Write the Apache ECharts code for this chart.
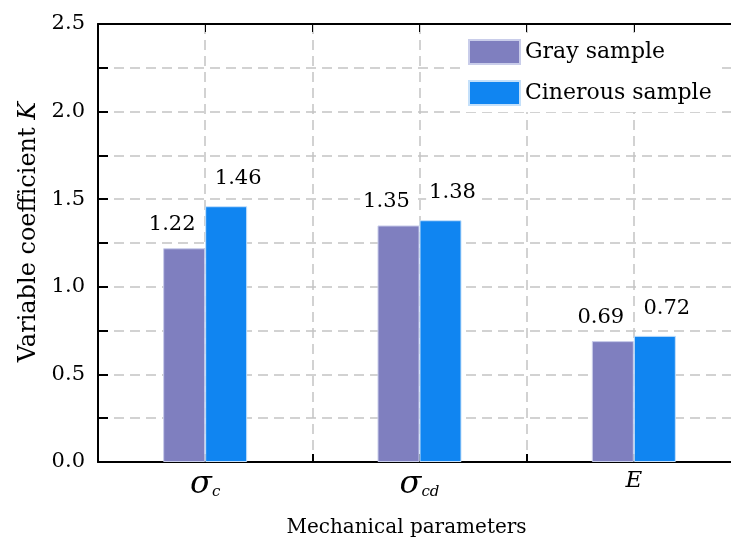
<!DOCTYPE html>
<html>
<head>
<meta charset="utf-8">
<script src="https://cdn.jsdelivr.net/npm/echarts@6/dist/echarts.min.js"></script>
<style>
  html, body { margin: 0; padding: 0; background: #fff; }
  #chart { width: 731px; height: 539px; }
</style>
</head>
<body>
<div id="chart"></div>
<script>
// data
var categories = ['σ_c', 'σ_cd', 'E'];
var graySample = [1.22, 1.35, 0.69];
var cinerousSample = [1.46, 1.38, 0.72];
var seriesNames = ['Gray sample', 'Cinerous sample'];

var FONT = 'DejaVu Serif';
var dash = [10, 6];

var myChart = echarts.init(document.getElementById('chart'));

var option = {
  backgroundColor: '#fff',
  animation: false,
  textStyle: { fontFamily: FONT, color: '#000' },
  grid: { left: 98, top: 24, width: 643, bottom: 77, outerBoundsMode: 'none', containLabel: false },
  legend: {
    orient: 'vertical',
    left: 460,
    top: 33,
    padding: [6, 8, 6, 8],
    backgroundColor: '#fff',
    itemWidth: 51,
    itemHeight: 24,
    itemGap: 15,
    icon: 'rect',
    textStyle: { fontFamily: FONT, fontSize: 22, color: '#000' },
    data: seriesNames
  },
  xAxis: [
    {
      type: 'category',
      data: categories,
      position: 'bottom',
      axisLine: { lineStyle: { color: '#000', width: 2 } },
      axisTick: { show: false },
      splitLine: { show: false },
      axisLabel: {
        margin: 8,
        formatter: function (v) {
          var p = v.split('_');
          if (p.length > 1) return '{s|' + p[0] + '}{sub|' + p[1] + '}';
          return '{e|' + v + '}';
        },
        rich: {
          s: { fontFamily: FONT, fontSize: 32, fontStyle: 'italic', lineHeight: 30 },
          sub: { fontFamily: FONT, fontSize: 15, fontStyle: 'italic', verticalAlign: 'bottom', lineHeight: 30, padding: [14, 0, 0, 0] },
          e: { fontFamily: FONT, fontSize: 23, fontStyle: 'italic', lineHeight: 22 }
        }
      },
      name: 'Mechanical parameters',
      nameLocation: 'middle',
      nameGap: 56,
      nameTextStyle: { fontFamily: FONT, fontSize: 20, color: '#000', padding: [0, 26, 0, 0] }
    },
    {
      type: 'value',
      min: 0, max: 3, interval: 0.5,
      position: 'bottom',
      axisLine: { show: false },
      axisTick: { show: true, inside: true, length: 8, lineStyle: { color: '#000', width: 2 } },
      axisLabel: { show: false },
      splitLine: { show: true, lineStyle: { color: '#c4c4c4', width: 1.5, type: dash } }
    },
    {
      type: 'value',
      min: 0, max: 3, interval: 0.5,
      position: 'top',
      axisLine: { show: true, onZero: false, lineStyle: { color: '#000', width: 2 } },
      axisTick: { show: true, inside: true, length: 8, lineStyle: { color: '#000', width: 1 } },
      axisLabel: { show: false },
      splitLine: { show: false }
    }
  ],
  yAxis: {
    type: 'value',
    min: 0, max: 2.5, interval: 0.25,
    axisLine: { show: true, lineStyle: { color: '#000', width: 2 } },
    axisTick: { show: true, inside: true, length: 10, lineStyle: { color: '#000', width: 2 } },
    splitLine: { show: true, lineStyle: { color: '#c4c4c4', width: 1.5, type: dash } },
    axisLabel: {
      margin: 13,
      fontFamily: FONT,
      fontSize: 21,
      color: '#000',
      formatter: function (v) {
        var r = Math.round(v * 100);
        return r % 50 === 0 ? (r / 100).toFixed(1) : '';
      }
    },
    name: 'Variable coefficient {k|K}',
    nameLocation: 'middle',
    nameGap: 56,
    nameTextStyle: {
      fontFamily: FONT, fontSize: 24, color: '#000',
      padding: [0, 0, 0, 22],
      rich: { k: { fontFamily: FONT, fontSize: 24, fontStyle: 'italic' } }
    }
  },
  series: [
    {
      name: seriesNames[0],
      type: 'bar',
      data: graySample,
      barWidth: 42,
      barGap: '0%',
      itemStyle: { color: '#7f7fbf', borderColor: '#c9cdea', borderWidth: 1 },
      label: {
        show: true, position: 'top', distance: 12, offset: [-12, 0],
        fontFamily: FONT, fontSize: 21, color: '#000',
        backgroundColor: '#fff', padding: [1, 3]
      }
    },
    {
      name: seriesNames[1],
      type: 'bar',
      data: cinerousSample,
      barWidth: 42,
      itemStyle: { color: '#1085f1', borderColor: '#c4e0fa', borderWidth: 1 },
      label: {
        show: true, position: 'top', distance: 16, offset: [12, 0],
        fontFamily: FONT, fontSize: 21, color: '#000',
        backgroundColor: '#fff', padding: [1, 3]
      }
    }
  ]
};

myChart.setOption(option);
window.addEventListener('resize', myChart.resize);
</script>
</body>
</html>
